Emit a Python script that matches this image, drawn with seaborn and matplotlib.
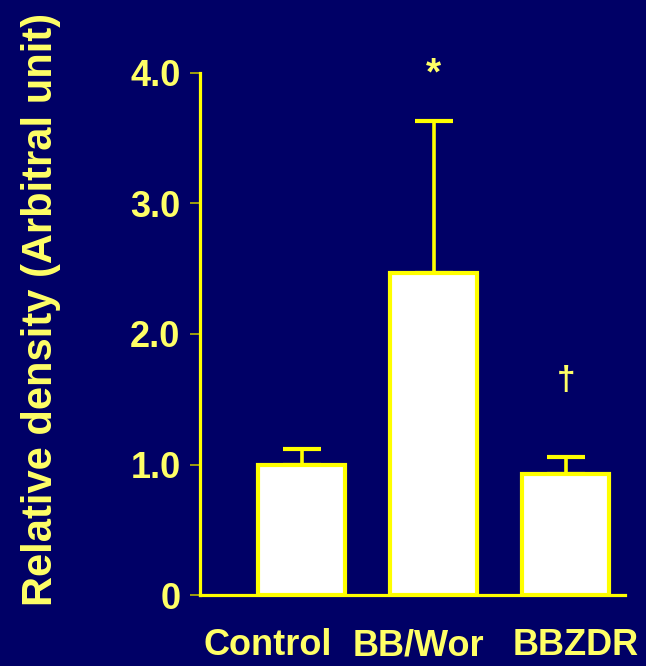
import numpy as np
import pandas as pd
import matplotlib
matplotlib.use('Agg')
import matplotlib.pyplot as plt
import matplotlib.transforms as mtransforms
import seaborn as sns

# values
groups = ['Control', 'BB/Wor', 'BBZDR']
density = [1.0, 2.47, 0.93]
sem_upper = [0.12, 1.16, 0.13]
marks = ['', '*', '\u2020']
y_ticks = [0, 1.0, 2.0, 3.0, 4.0]
y_tick_labels = ['0', '1.0', '2.0', '3.0', '4.0']

BG = '#000066'
YELLOW = '#FFFF00'
TEXT = '#FFFF66'

sns.set_theme(style='white')
plt.rcParams['font.family'] = ['Liberation Sans', 'DejaVu Sans']
plt.rcParams['font.weight'] = 'bold'

df = pd.DataFrame({'group': groups, 'density': density})

fig = plt.figure(figsize=(6.46, 6.66), dpi=100, facecolor=BG)
ax = fig.add_axes([0.3096, 0.1066, 0.658, 0.7838])
ax.set_facecolor(BG)

# error bars first so the bars hide the lower part
ax.errorbar(np.arange(len(groups)), density,
            yerr=[np.zeros(len(groups)), sem_upper],
            fmt='none', ecolor=YELLOW, elinewidth=2.6,
            capsize=14, capthick=3.0, zorder=1)

sns.barplot(data=df, x='group', y='density', color='white',
            edgecolor=YELLOW, linewidth=3.0, width=0.66,
            errorbar=None, ax=ax, zorder=2, saturation=1)

# significance marks above the error bars
offsets = {'*': 34, '\u2020': 55}
for i, m in enumerate(marks):
    if m:
        top = density[i] + sem_upper[i]
        ax.annotate(m, xy=(i, top), xytext=(0, offsets[m]),
                    textcoords='offset points', ha='center', va='center',
                    color=TEXT, fontsize=28 if m == '*' else 24,
                    fontweight='bold', annotation_clip=False,
                    family=['Liberation Sans', 'DejaVu Sans'])

ax.set_xlim(-0.77, 2.45)
ax.set_ylim(0, 4.0)
ax.set_yticks(y_ticks)
ax.set_yticklabels(y_tick_labels)

sns.despine(ax=ax)
for side in ['left', 'bottom']:
    ax.spines[side].set_color(YELLOW)
    ax.spines[side].set_linewidth(2.3)

ax.tick_params(axis='y', left=True, length=7, width=1.2, color='#B8B800',
               pad=7, labelsize=26, labelcolor=TEXT)
ax.tick_params(axis='x', bottom=False, pad=18, labelsize=26, labelcolor=TEXT)

# the category names sit a little off the bar centres in the original
shifts = [-24.5, -11, 7]
for lab, dx in zip(ax.get_xticklabels(), shifts):
    lab.set_fontweight('bold')
    lab.set_transform(lab.get_transform() +
                      mtransforms.ScaledTranslation(dx / 72, 0, fig.dpi_scale_trans))
for lab in ax.get_yticklabels():
    lab.set_fontweight('bold')

ax.set_xlabel('')
ax.set_ylabel('')
fig.text(0.063, 0.535, 'Relative density (Arbitral unit)', rotation=90,
         ha='center', va='center', color=TEXT, fontsize=30, fontweight='bold')

fig.savefig('out.png', dpi=100, facecolor=BG)
